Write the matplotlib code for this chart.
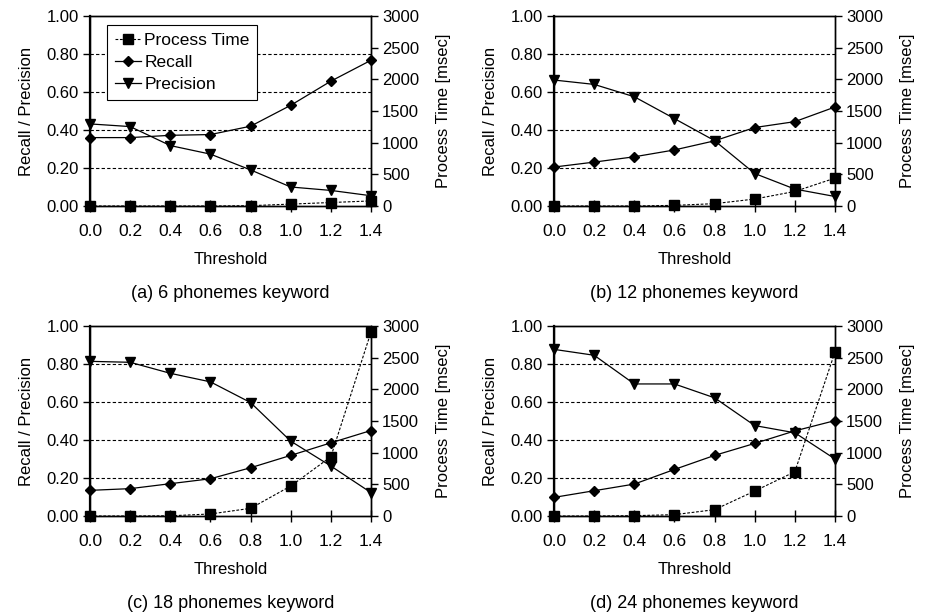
import matplotlib
matplotlib.use("Agg")
import matplotlib.pyplot as plt
from matplotlib.ticker import FormatStrFormatter, MultipleLocator

plt.rcParams['font.family'] = ['Liberation Sans', 'DejaVu Sans']

thresholds = [0.0, 0.2, 0.4, 0.6, 0.8, 1.0, 1.2, 1.4]

captions = ["(a) 6 phonemes keyword", "(b) 12 phonemes keyword",
            "(c) 18 phonemes keyword", "(d) 24 phonemes keyword"]

recall_a = [0.36, 0.36, 0.372, 0.376, 0.42, 0.53, 0.657, 0.767]
precision_a = [0.432, 0.418, 0.318, 0.273, 0.19, 0.10, 0.082, 0.054]
ptime_a = [0, 0, 0, 0, 5, 30, 55, 80]

recall_b = [0.205, 0.231, 0.259, 0.295, 0.343, 0.413, 0.444, 0.521]
precision_b = [0.663, 0.64, 0.575, 0.46, 0.344, 0.171, 0.089, 0.05]
ptime_b = [0, 0, 0, 10, 37, 110, 230, 440]

recall_c = [0.135, 0.144, 0.17, 0.196, 0.254, 0.319, 0.385, 0.45]
precision_c = [0.814, 0.809, 0.751, 0.706, 0.597, 0.394, 0.263, 0.123]
ptime_c = [0, 0, 3, 32, 121, 473, 935, 2905]

recall_d = [0.098, 0.133, 0.168, 0.245, 0.319, 0.382, 0.448, 0.502]
precision_d = [0.877, 0.846, 0.695, 0.695, 0.622, 0.476, 0.438, 0.30]
ptime_d = [0, 0, 5, 21, 100, 394, 699, 2591]

recalls = [recall_a, recall_b, recall_c, recall_d]
precisions = [precision_a, precision_b, precision_c, precision_d]
ptimes = [ptime_a, ptime_b, ptime_c, ptime_d]

fig = plt.figure(figsize=(9.28, 6.14), dpi=100)

W, H = 928, 614
boxes = [(90, 16), (554, 16), (90, 326), (554, 326)]
pw, ph = 281, 190

for i, (x0, y0) in enumerate(boxes):
    ax = fig.add_axes([x0 / W, 1 - (y0 + ph) / H, pw / W, ph / H])
    ax2 = ax.twinx()
    for yv in [0.2, 0.4, 0.6, 0.8]:
        ax.axhline(yv, color='black', lw=0.8, ls=(0, (3, 2)), zorder=0)
    l_rec, = ax.plot(thresholds, recalls[i], color='black', lw=0.9, marker='D',
                     markersize=5, label='Recall', clip_on=False, zorder=3)
    l_pre, = ax.plot(thresholds, precisions[i], color='black', lw=0.9, marker='v',
                     markersize=7.5, label='Precision', clip_on=False, zorder=3)
    l_pt, = ax2.plot(thresholds, ptimes[i], color='black', lw=0.8, ls=(0, (2.5, 1.5)),
                     marker='s', markersize=7, label='Process Time', clip_on=False, zorder=3)
    ax.set_xlim(0, 1.4)
    ax.set_ylim(0, 1.0)
    ax2.set_ylim(0, 3000)
    ax.xaxis.set_major_locator(MultipleLocator(0.2))
    ax.xaxis.set_major_formatter(FormatStrFormatter('%.1f'))
    ax.yaxis.set_major_locator(MultipleLocator(0.2))
    ax.yaxis.set_major_formatter(FormatStrFormatter('%.2f'))
    ax2.yaxis.set_major_locator(MultipleLocator(500))
    for a in (ax, ax2):
        a.tick_params(axis='y', direction='out', length=5, width=1, labelsize=12, pad=3)
        for s in a.spines.values():
            s.set_linewidth(1.0)
    ax.tick_params(axis='x', direction='inout', length=8, width=1, labelsize=12.5, pad=9)
    ax.spines['left'].set_linewidth(1.6)
    ax.set_xlabel('Threshold', fontsize=12, labelpad=9)
    ax.set_ylabel('Recall / Precision', fontsize=12, labelpad=9)
    ax2.set_ylabel('Process Time [msec]', fontsize=12, labelpad=12)
    ax.text(0.5, -0.46, captions[i], transform=ax.transAxes, ha='center',
            va='center', fontsize=13)
    if i == 0:
        leg = ax2.legend(handles=[l_pt, l_rec, l_pre], loc='upper left',
                         bbox_to_anchor=(0.06, 0.953), fontsize=12.5,
                         frameon=True, fancybox=False, edgecolor='black',
                         framealpha=1, handlelength=1.5, handletextpad=0.2,
                         borderpad=0.45, labelspacing=0.4, borderaxespad=0)
        leg.get_frame().set_linewidth(0.8)

fig.savefig('out.png', dpi=100)
